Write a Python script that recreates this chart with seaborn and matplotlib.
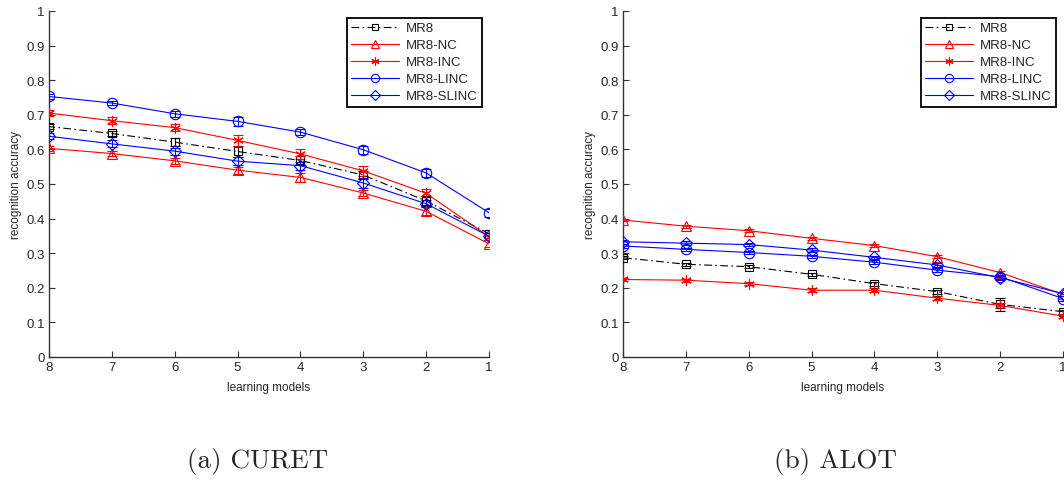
import numpy as np
import pandas as pd
import matplotlib
matplotlib.use("Agg")
import matplotlib.pyplot as plt
import seaborn as sns

# learning-model counts on the x axis (drawn from 8 down to 1)
models = [8, 7, 6, 5, 4, 3, 2, 1]
methods = ["MR8", "MR8-NC", "MR8-INC", "MR8-LINC", "MR8-SLINC"]

# CURET recognition accuracy
curet_mr8 = [0.666, 0.646, 0.621, 0.594, 0.568, 0.526, 0.451, 0.356]
curet_nc = [0.603, 0.588, 0.567, 0.540, 0.519, 0.474, 0.421, 0.327]
curet_inc = [0.705, 0.683, 0.663, 0.626, 0.587, 0.538, 0.473, 0.348]
curet_linc = [0.753, 0.734, 0.703, 0.681, 0.650, 0.599, 0.532, 0.417]
curet_slinc = [0.638, 0.616, 0.595, 0.566, 0.553, 0.503, 0.443, 0.349]

curet_mr8_err = [0.008, 0.008, 0.012, 0.015, 0.012, 0.012, 0.015, 0.012]
curet_nc_err = [0.008, 0.008, 0.008, 0.010, 0.012, 0.010, 0.012, 0.010]
curet_inc_err = [0.008, 0.010, 0.010, 0.015, 0.015, 0.015, 0.012, 0.010]
curet_linc_err = [0.006, 0.006, 0.008, 0.012, 0.008, 0.012, 0.012, 0.012]
curet_slinc_err = [0.008, 0.010, 0.010, 0.012, 0.012, 0.015, 0.010, 0.010]

# ALOT recognition accuracy
alot_mr8 = [0.287, 0.268, 0.261, 0.239, 0.212, 0.189, 0.152, 0.131]
alot_nc = [0.396, 0.378, 0.365, 0.343, 0.322, 0.290, 0.244, 0.181]
alot_inc = [0.224, 0.222, 0.212, 0.193, 0.193, 0.170, 0.149, 0.118]
alot_linc = [0.321, 0.311, 0.302, 0.291, 0.274, 0.251, 0.232, 0.169]
alot_slinc = [0.333, 0.329, 0.325, 0.309, 0.288, 0.266, 0.229, 0.183]

alot_mr8_err = [0.005, 0.004, 0.005, 0.005, 0.006, 0.006, 0.018, 0.006]
alot_nc_err = [0.004, 0.004, 0.005, 0.005, 0.005, 0.005, 0.006, 0.006]
alot_inc_err = [0.004, 0.004, 0.005, 0.006, 0.006, 0.005, 0.006, 0.006]
alot_linc_err = [0.005, 0.005, 0.005, 0.005, 0.005, 0.005, 0.006, 0.006]
alot_slinc_err = [0.005, 0.005, 0.005, 0.005, 0.005, 0.006, 0.006, 0.006]

y_ticks = [0, 0.1, 0.2, 0.3, 0.4, 0.5, 0.6, 0.7, 0.8, 0.9, 1]
y_tick_labels = ["0", "0.1", "0.2", "0.3", "0.4", "0.5", "0.6", "0.7", "0.8", "0.9", "1"]

styles = {
    "MR8": dict(color="black", marker="s", ls=(0, (7, 3, 1.5, 3))),
    "MR8-NC": dict(color="#ff0000", marker="^", ls="-"),
    "MR8-INC": dict(color="#ff0000", marker=(6, 2, 0), ls="-"),
    "MR8-LINC": dict(color="#0000ff", marker="o", ls="-"),
    "MR8-SLINC": dict(color="#0000ff", marker="D", ls="-"),
}
msize = {"MR8": 6, "MR8-NC": 7.5, "MR8-INC": 7.5, "MR8-LINC": 7.5, "MR8-SLINC": 6}

sns.set_style("ticks")
plt.rcParams["font.family"] = ["Liberation Sans", "DejaVu Sans"]

fig = plt.figure(figsize=(10.64, 4.85), dpi=100)
ax_w = 440 / 1064
ax_h = 346 / 485
ax_b = 127 / 485
ax_left = fig.add_axes([49 / 1064, ax_b, ax_w, ax_h])
ax_right = fig.add_axes([623 / 1064, ax_b, ax_w, ax_h])

panels = [
    (ax_left,
     [curet_mr8, curet_nc, curet_inc, curet_linc, curet_slinc],
     [curet_mr8_err, curet_nc_err, curet_inc_err, curet_linc_err, curet_slinc_err]),
    (ax_right,
     [alot_mr8, alot_nc, alot_inc, alot_linc, alot_slinc],
     [alot_mr8_err, alot_nc_err, alot_inc_err, alot_linc_err, alot_slinc_err]),
]

for ax, series, errs in panels:
    for name, vals, err in zip(methods, series, errs):
        st = styles[name]
        df = pd.DataFrame({"models": models, "accuracy": vals})
        ax.errorbar(models, vals, yerr=err, fmt="none", ecolor=st["color"],
                    elinewidth=0.8, capsize=3.5, capthick=0.8, zorder=2)
        sns.lineplot(data=df, x="models", y="accuracy", ax=ax, label=name,
                     color=st["color"], marker=st["marker"], linestyle=st["ls"],
                     linewidth=0.8, markersize=msize[name], mfc="none",
                     mec=st["color"], mew=0.8, zorder=3)
    ax.set_xlim(8, 1)
    ax.set_ylim(0, 1)
    ax.set_xticks(models)
    ax.set_xticklabels([str(m) for m in models], fontsize=9.5)
    ax.set_yticks(y_ticks)
    ax.set_yticklabels(y_tick_labels, fontsize=9.5)
    ax.tick_params(direction="in", length=4, width=0.8, color="#333333", pad=3)
    for s in ("top", "right"):
        ax.spines[s].set_visible(False)
    for s in ("left", "bottom"):
        ax.spines[s].set_linewidth(1.0)
        ax.spines[s].set_color("#333333")
    ax.set_xlabel("learning models", fontsize=8.5, labelpad=6)
    ax.set_ylabel("recognition accuracy", fontsize=8.5, labelpad=3)
    leg = ax.legend(loc="upper left", bbox_to_anchor=(0.677, 0.981),
                    fontsize=9.5, frameon=True, fancybox=False, framealpha=1,
                    edgecolor="black", handlelength=3.6, handletextpad=0.5,
                    borderpad=0.35, labelspacing=0.36, numpoints=1,
                    markerscale=0.8, borderaxespad=0)
    leg.get_frame().set_linewidth(1.3)

fig.text(258 / 1064, 1 - 462 / 485, "(a) CURET", family="cmr10",
         fontsize=19.5, ha="center", va="center")
fig.text(835 / 1064, 1 - 462 / 485, "(b) ALOT", family="cmr10",
         fontsize=19.5, ha="center", va="center")

fig.savefig("out.png", dpi=100)
